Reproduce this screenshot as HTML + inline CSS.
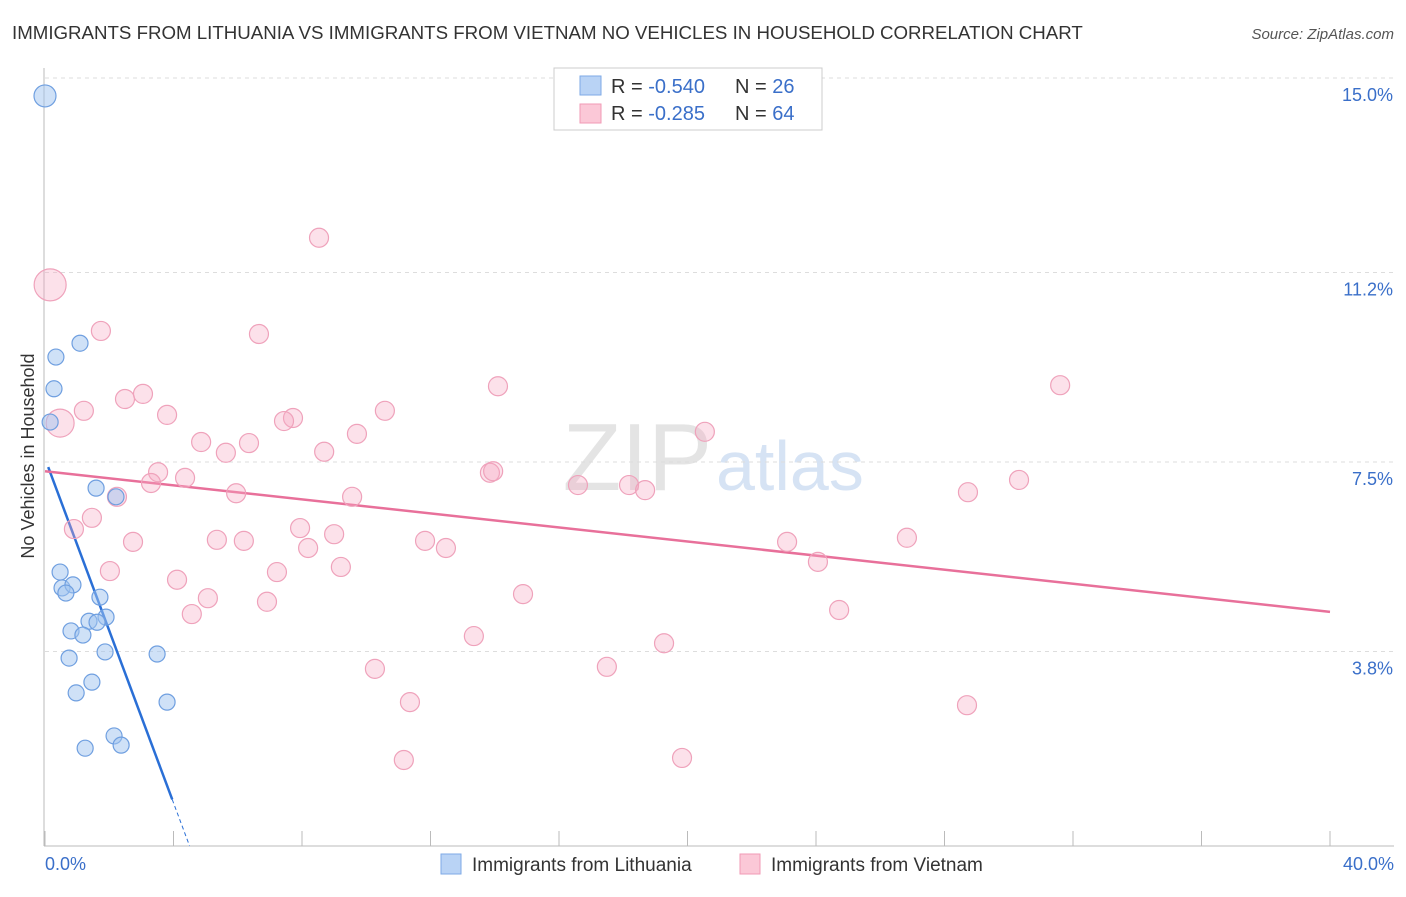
<!DOCTYPE html>
<html><head><meta charset="utf-8"><style>
body{margin:0;background:#fff;font-family:"Liberation Sans",sans-serif;}
svg text{font-family:"Liberation Sans",sans-serif;}
</style></head><body>
<svg id="chart" width="1406" height="892">
<text x="12" y="39" font-size="18.7" fill="#333">IMMIGRANTS FROM LITHUANIA VS IMMIGRANTS FROM VIETNAM NO VEHICLES IN HOUSEHOLD CORRELATION CHART</text>
<text x="1394" y="39" font-size="15" fill="#555" font-style="italic" text-anchor="end">Source: ZipAtlas.com</text>
<text x="712" y="490" font-size="96" fill="#e4e4e4" text-anchor="end" font-family="Liberation Serif">ZIP</text>
<text x="716" y="490" font-size="70" fill="#d6e3f4">atlas</text>
<g id="grid"></g><g id="axes"></g><g id="trend"></g><g id="pts"></g>
<text transform="translate(34,456) rotate(-90)" font-size="18" fill="#333" text-anchor="middle">No Vehicles in Household</text>
<text x="45" y="870" font-size="18" fill="#3a6fc9">0.0%</text>
<text x="1394" y="870" font-size="18" fill="#3a6fc9" text-anchor="end">40.0%</text>
<g>
<rect x="554" y="68" width="268" height="62" fill="#fff" stroke="#ccc"/>
<rect x="580" y="76" width="21" height="19" fill="#b9d3f5" stroke="#7ea9e6"/>
<rect x="580" y="104" width="21" height="19" fill="#fbc8d7" stroke="#f09ab5"/>
<text x="611" y="93" font-size="20" fill="#333">R = <tspan fill="#3a6fc9">-0.540</tspan></text>
<text x="735" y="93" font-size="20" fill="#333">N = <tspan fill="#3a6fc9">26</tspan></text>
<text x="611" y="120" font-size="20" fill="#333">R = <tspan fill="#3a6fc9"> -0.285</tspan></text>
<text x="735" y="120" font-size="20" fill="#333">N = <tspan fill="#3a6fc9">64</tspan></text>
</g>
<g>
<rect x="441" y="854" width="20" height="20" fill="#b9d3f5" stroke="#7ea9e6"/>
<text x="472" y="871" font-size="19" fill="#333">Immigrants from Lithuania</text>
<rect x="740" y="854" width="20" height="20" fill="#fbc8d7" stroke="#f09ab5"/>
<text x="771" y="871" font-size="19" fill="#333">Immigrants from Vietnam</text>
</g>
</svg>
<script>
const yTicks=[3.8,7.5,11.2,15.0];
const ytickLabels=["3.8%","7.5%","11.2%","15.0%"];
const xTicks=[0,4,8,12,16,20,24,28,32,36,40];
const lithX=[0.0,0.34,0.28,1.09,0.16,1.59,2.21,0.47,0.53,0.87,0.65,1.71,1.9,1.37,1.62,0.81,1.18,0.75,1.87,3.49,1.46,0.97,3.8,2.15,1.25,2.37];
const lithY=[14.65,9.55,8.93,9.82,8.28,6.99,6.82,5.35,5.04,5.1,4.94,4.86,4.47,4.39,4.37,4.2,4.12,3.67,3.79,3.75,3.2,2.99,2.81,2.15,1.91,1.97];
const vietX=[0.16,0.47,1.74,8.53,6.66,14.1,31.6,1.21,2.49,3.05,3.8,10.58,7.72,7.44,4.86,6.35,5.63,9.71,20.54,8.69,3.52,4.36,3.3,13.85,13.95,5.95,9.56,2.24,16.59,18.18,18.68,28.73,30.32,1.46,0.9,7.94,9.0,5.35,6.19,2.74,8.19,11.83,12.48,23.1,26.83,24.06,9.21,2.02,7.22,4.11,5.07,6.91,14.88,4.57,24.72,13.35,19.27,10.27,17.49,11.36,28.7,11.17,19.83];
const vietY=[10.96,8.26,10.06,11.88,10.0,8.98,9.0,8.5,8.73,8.83,8.42,8.5,8.36,8.3,7.89,7.87,7.68,8.05,8.09,7.7,7.3,7.19,7.09,7.29,7.32,6.89,6.82,6.82,7.05,7.05,6.95,6.91,7.15,6.41,6.19,6.21,6.09,5.98,5.96,5.94,5.82,5.96,5.82,5.94,6.02,5.55,5.45,5.37,5.35,5.2,4.84,4.77,4.92,4.53,4.61,4.1,3.96,3.46,3.5,2.81,2.75,1.68,1.72];
const vietSize=[16,14];
const NS='http://www.w3.org/2000/svg';
const X=v=>45+v*32.125, Y=v=>846-v*51.2;
function mk(p,t,a){const e=document.createElementNS(NS,t);for(const k in a)e.setAttribute(k,a[k]);document.getElementById(p).appendChild(e);return e;}
yTicks.forEach((t,i)=>{
 const l=mk('grid','line',{x1:45,x2:1394,y1:Y(t),y2:Y(t),stroke:'#ddd','stroke-dasharray':'4,4'});
 
 
 const tx=mk('grid','text',{x:1393,y:Y(t)+23,'font-size':18,fill:'#3a6fc9','text-anchor':'end'});tx.textContent=ytickLabels[i];
 
 
});
const ax=mk('axes','line',{x1:44,x2:44,y1:68,y2:846,stroke:'#bbb'});


const bx=mk('axes','line',{x1:44,x2:1394,y1:846,y2:846,stroke:'#bbb'});


xTicks.forEach(t=>{const e=mk('axes','line',{x1:X(t),x2:X(t),y1:831,y2:846,stroke:'#bbb'});
 
 });
function fit(xs,ys){const n=xs.length;let mx=0,my=0;xs.forEach((v,i)=>{mx+=v;my+=ys[i]});mx/=n;my/=n;let a=0,b=0;xs.forEach((v,i)=>{a+=(v-mx)*(ys[i]-my);b+=(v-mx)*(v-mx)});const s=a/b;return [s,my-s*mx];}
const [sb,ib]=fit(lithX,lithY);
const xEnd=Math.min(40,-ib/sb);
const t1=mk('trend','line',{x1:X(0.1),y1:Y(ib+sb*0.1),x2:X(xEnd*0.88),y2:Y(ib+sb*xEnd*0.88),stroke:'#2a6fd6','stroke-width':2.5});


const t1d=mk('trend','line',{x1:X(xEnd*0.88),y1:Y(ib+sb*xEnd*0.88),x2:X(xEnd),y2:Y(0),stroke:'#2a6fd6','stroke-width':1,'stroke-dasharray':'4,3'});


const [sp,ip]=fit(vietX,vietY);
const t2=mk('trend','line',{x1:X(0),y1:Y(ip),x2:X(40),y2:Y(ip+sp*40),stroke:'#e8709a','stroke-width':2.5});


vietX.forEach((v,i)=>{const r=i<2?vietSize[i]:9.5;const c=mk('pts','circle',{cx:X(v),cy:Y(vietY[i]),r:r,fill:'rgba(246,170,195,0.35)',stroke:'#efa2bb','stroke-width':1.2});
 
 });
lithX.forEach((v,i)=>{const r=i==0?11:8;const c=mk('pts','circle',{cx:X(v),cy:Y(lithY[i]),r:r,fill:'rgba(160,195,240,0.5)',stroke:'#6f9fe0','stroke-width':1.2});
 
 });
</script>
</body></html>
